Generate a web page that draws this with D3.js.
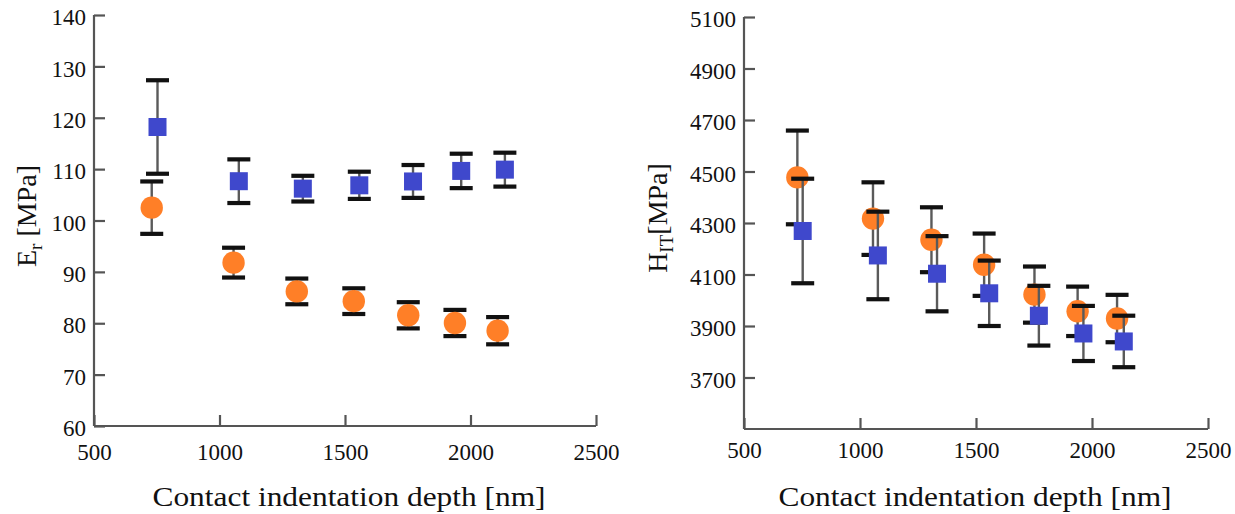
<!DOCTYPE html>
<html>
<head>
<meta charset="utf-8">
<script src="https://cdn.jsdelivr.net/npm/d3@7"></script>
<style>
  html, body { margin: 0; padding: 0; background: #fff; }
  svg { display: block; }
  text { font-family: "Liberation Serif", "DejaVu Serif", serif; fill: #111; }
</style>
</head>
<body>
<svg id="chart" width="1235" height="514"></svg>
<script>
// ---- data ----
const depthOrange = [730, 1056, 1308, 1535, 1752, 1938, 2108];
const depthBlue   = [753, 1077, 1332, 1557, 1771, 1963, 2137];

const erOrange    = [102.5, 91.8, 86.2, 84.3, 81.55, 80.05, 78.55];
const erOrangeErr = [5.1, 2.9, 2.5, 2.5, 2.55, 2.55, 2.65];
const erBlue      = [118.2, 107.65, 106.2, 106.85, 107.6, 109.65, 109.9];
const erBlueErr   = [9.1, 4.25, 2.5, 2.65, 3.2, 3.35, 3.3];

const hOrange     = [4477, 4317, 4235, 4138, 4022, 3957, 3929];
const hOrangeErr  = [182, 141, 126, 121, 109, 96, 92];
const hBlue       = [4269, 4174, 4103, 4027, 3940, 3871, 3840];
const hBlueErr    = [203, 170, 146, 127, 116, 107, 100];

const xTicks      = [500, 1000, 1500, 2000, 2500];
const erTicks     = [60, 70, 80, 90, 100, 110, 120, 130, 140];
const hTicks      = [3700, 3900, 4100, 4300, 4500, 4700, 4900, 5100];

const ORANGE = "#ff7f27";
const BLUE = "#3f48cc";
const FONT = '"Liberation Serif", "DejaVu Serif", serif';

const svg = d3.select("#chart");

function panel(cfg) {
  const x = d3.scaleLinear().domain([500, 2500]).range([cfg.x0, cfg.x1]);
  const y = d3.scaleLinear().domain(cfg.yDomain).range([cfg.y0, cfg.y1]);
  const g = svg.append("g");

  // axes
  const ax = g.append("g").attr("transform", `translate(0,${cfg.y0})`)
    .call(d3.axisBottom(x).tickValues(xTicks).tickSizeInner(-11).tickSizeOuter(0).tickPadding(cfg.xPad).tickFormat(d3.format("d")));
  const ay = g.append("g").attr("transform", `translate(${cfg.x0},0)`)
    .call(d3.axisLeft(y).tickValues(cfg.yTicks).tickSizeInner(-11).tickSizeOuter(0).tickPadding(8).tickFormat(d3.format("d")));
  [ax, ay].forEach(a => {
    a.attr("font-family", FONT).attr("font-size", 23);
    a.selectAll("path.domain").attr("stroke", "#555").attr("stroke-width", 2.2);
    a.selectAll(".tick line").attr("stroke", "#555").attr("stroke-width", 2.2);
    a.selectAll(".tick text").attr("font-family", FONT).style("font-family", FONT).style("font-size", "23px").attr("fill", "#111");
  });
  ay.selectAll(".tick text").attr("dy", "0.42em");
  ax.select("path.domain").attr("d", `M${cfg.x0},0H${cfg.x1}`);
  ay.select("path.domain").attr("d", `M0,${cfg.y0}V${cfg.y1}`);

  // error bars + markers
  function series(xs, vals, errs, color, shape) {
    const data = xs.map((d, i) => ({ x: d, v: vals[i], e: errs[i] }));
    const eg = g.append("g");
    eg.selectAll("line.stem").data(data).enter().append("line")
      .attr("x1", d => x(d.x)).attr("x2", d => x(d.x))
      .attr("y1", d => y(d.v + d.e)).attr("y2", d => y(d.v - d.e))
      .attr("stroke", "#5a5a5a").attr("stroke-width", 2.4);
    ["+", "-"].forEach(s => {
      eg.selectAll("line.cap" + (s === "+" ? "u" : "l")).data(data).enter().append("line")
        .attr("x1", d => x(d.x) - 11.5).attr("x2", d => x(d.x) + 11.5)
        .attr("y1", d => y(s === "+" ? d.v + d.e : d.v - d.e))
        .attr("y2", d => y(s === "+" ? d.v + d.e : d.v - d.e))
        .attr("stroke", "#111").attr("stroke-width", 4.2);
    });
    const mg = g.append("g");
    if (shape === "circle") {
      mg.selectAll("circle").data(data).enter().append("circle")
        .attr("cx", d => x(d.x)).attr("cy", d => y(d.v)).attr("r", 11.2)
        .attr("fill", color);
    } else {
      const s = 18;
      mg.selectAll("rect").data(data).enter().append("rect")
        .attr("x", d => x(d.x) - s / 2).attr("y", d => y(d.v) - s / 2)
        .attr("width", s).attr("height", s).attr("fill", color);
    }
  }
  series(depthOrange, cfg.orange, cfg.orangeErr, ORANGE, "circle");
  series(depthBlue, cfg.blue, cfg.blueErr, BLUE, "rect");

  // x title
  g.append("text").attr("x", cfg.xTitleX).attr("y", 506).attr("text-anchor", "middle")
    .attr("textLength", 393).attr("lengthAdjust", "spacingAndGlyphs")
    .style("font-size", "28px").text("Contact indentation depth [nm]");

  // y title
  const yt = g.append("text")
    .attr("transform", `translate(${cfg.yTitleX},${cfg.yTitleY}) rotate(-90)`)
    .attr("text-anchor", "middle").style("font-size", "28px");
  yt.append("tspan").text(cfg.yMain);
  yt.append("tspan").attr("dy", 6).style("font-size", "19px").text(cfg.ySub);
  yt.append("tspan").attr("dy", -6).text(cfg.yRest);
}

panel({
  x0: 94, x1: 596, y0: 426, y1: 15, yDomain: [60, 140], yTicks: erTicks, xPad: 18,
  orange: erOrange, orangeErr: erOrangeErr, blue: erBlue, blueErr: erBlueErr,
  xTitleX: 349, yTitleX: 36, yTitleY: 216, yMain: "E", ySub: "r", yRest: " [MPa]"
});
panel({
  x0: 744, x1: 1208, y0: 429, y1: 17, yDomain: [3500, 5100], yTicks: hTicks, xPad: 13,
  orange: hOrange, orangeErr: hOrangeErr, blue: hBlue, blueErr: hBlueErr,
  xTitleX: 975, yTitleX: 667, yTitleY: 218, yMain: "H", ySub: "IT", yRest: "[MPa]"
});
</script>
</body>
</html>
